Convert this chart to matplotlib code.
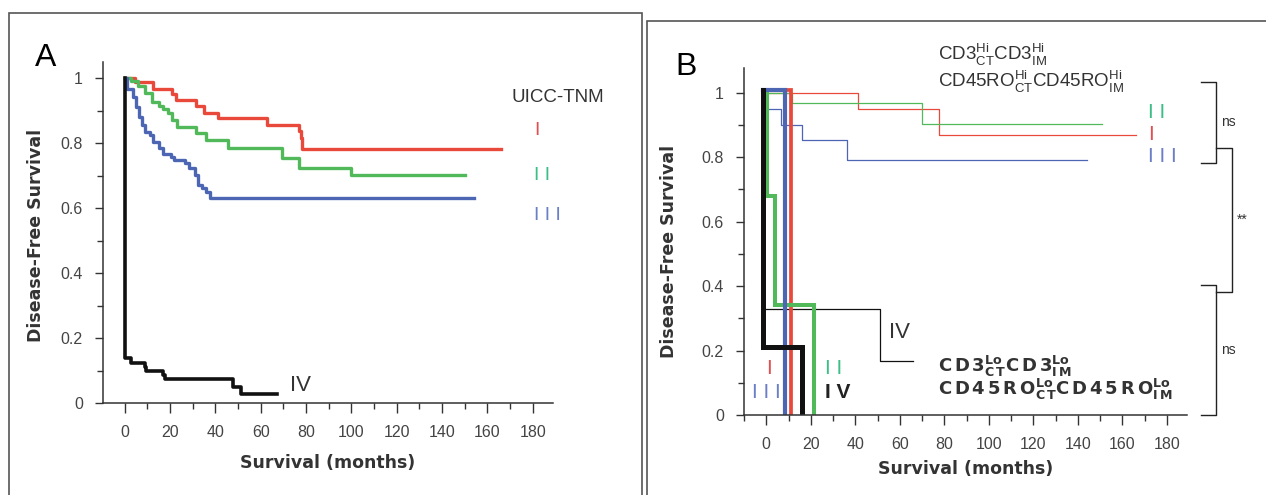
import matplotlib
matplotlib.use("Agg")
import matplotlib.pyplot as plt
from matplotlib.patches import Rectangle
from matplotlib.ticker import MultipleLocator

plt.rcParams["font.family"] = ["Liberation Sans", "DejaVu Sans"]
plt.rcParams["mathtext.fontset"] = "custom"
plt.rcParams["mathtext.rm"] = "Liberation Sans"
plt.rcParams["mathtext.bf"] = "Liberation Sans:bold"
plt.rcParams["mathtext.sf"] = "DejaVu Sans:bold"

RED = "#e8493b"
GREEN = "#52b95a"
BLUE = "#4c66b3"
BLACK = "#111111"
LBL_RED = "#e05050"
LBL_GREEN = "#3cbf86"
LBL_BLUE = "#6a7fc6"

# ---- panel A : UICC-TNM stages (months, survival fraction)
a_stage1_t = [0, 4.5, 12.5, 21, 22.5, 31.5, 35, 41, 63, 77, 77.6, 78.4, 166]
a_stage1_s = [1.0, 0.987, 0.966, 0.951, 0.933, 0.915, 0.894, 0.876, 0.855, 0.837, 0.817, 0.783, 0.783]

a_stage2_t = [0, 3, 6, 9, 12, 15, 17, 19, 21, 23, 31.5, 36, 45.5, 69.5, 77, 100, 150]
a_stage2_s = [1.0, 0.99, 0.975, 0.953, 0.927, 0.915, 0.905, 0.893, 0.871, 0.85, 0.832, 0.809, 0.784, 0.753, 0.725, 0.702, 0.702]

a_stage3_t = [0, 1, 3.5, 5, 6.5, 7.5, 9, 11, 12.5, 15, 17, 20.5, 22, 26.5, 28.5, 31, 32.3, 34, 36, 37.5, 154]
a_stage3_s = [1.0, 0.968, 0.943, 0.912, 0.881, 0.855, 0.835, 0.825, 0.804, 0.784, 0.768, 0.758, 0.748, 0.738, 0.722, 0.702, 0.671, 0.661, 0.650, 0.630, 0.630]

a_stage4_t = [0, 0, 3, 9, 9.6, 17, 17.7, 47.7, 51.3, 67]
a_stage4_s = [1.0, 0.138, 0.122, 0.112, 0.097, 0.086, 0.073, 0.050, 0.027, 0.027]

# ---- panel B : Hi (thin) and Lo (thick) immune groups per stage
b_hi1_t = [0, 41.4, 77.8, 166]
b_hi1_s = [1.0, 0.949, 0.870, 0.870]
b_hi2_t = [0, 11.5, 70, 151]
b_hi2_s = [1.0, 0.968, 0.904, 0.904]
b_hi3_t = [-1.4, -1.4, 6.7, 16, 36.2, 144]
b_hi3_s = [1.0, 0.950, 0.900, 0.854, 0.790, 0.790]
b_hi4_t = [-1.4, -1.4, 51.2, 66]
b_hi4_s = [1.0, 0.329, 0.169, 0.169]

b_lo1_t = [-1.4, 11.3]
b_lo1_s = [1.01, 0.0]
b_lo2_t = [0.5, 0.5, 4, 21.5]
b_lo2_s = [1.0, 0.68, 0.342, 0.0]
b_lo3_t = [-1.4, 8.5]
b_lo3_s = [1.01, 0.0]
b_lo4_t = [-1.4, -1.4, 16.2]
b_lo4_s = [1.01, 0.21, 0.0]

x_ticks = [0, 20, 40, 60, 80, 100, 120, 140, 160, 180]
y_ticks = [0, 0.2, 0.4, 0.6, 0.8, 1]
y_tick_labels = ["0", "0.2", "0.4", "0.6", "0.8", "1"]

# significance brackets in panel B: (x_open, x_spine, y_top, y_bottom, label)
brackets = [
    (195.2, 202.2, 1.034, 0.783, "ns"),
    (202.2, 209.0, 0.829, 0.383, "**"),
    (195.2, 202.2, 0.404, 0.0, "ns"),
]

fig = plt.figure(figsize=(12.66, 4.95), dpi=100)

# panel frames
fig.add_artist(Rectangle((0.0071, -0.3), 0.5002, 1.2747, transform=fig.transFigure,
                         fill=False, edgecolor="#555555", lw=1.2))
fig.add_artist(Rectangle((0.5110, -0.3), 0.52, 1.2576, transform=fig.transFigure,
                         fill=False, edgecolor="#555555", lw=1.2))


def style_axes(ax, ymax):
    ax.set_xlim(-9.5, 189)
    ax.set_ylim(0, ymax)
    for side in ["top", "right"]:
        ax.spines[side].set_visible(False)
    for side in ["left", "bottom"]:
        ax.spines[side].set_color("#333333")
        ax.spines[side].set_linewidth(1.1)
    ax.set_xticks(x_ticks)
    ax.set_yticks(y_ticks)
    ax.set_yticklabels(y_tick_labels)
    ax.xaxis.set_minor_locator(MultipleLocator(10))
    ax.yaxis.set_minor_locator(MultipleLocator(0.1))
    ax.tick_params(which="major", length=6, width=1, color="#333333",
                   labelsize=11.5, labelcolor="#444444", pad=8.5)
    ax.tick_params(axis="x", which="major", length=7, pad=9)
    ax.tick_params(which="minor", length=4, width=1, color="#333333")
    ax.set_xlabel("Survival (months)", family="DejaVu Sans", fontweight="bold",
                  fontsize=12.5, color="#333333", labelpad=10)
    ax.set_ylabel("Disease-Free Survival", family="DejaVu Sans", fontweight="bold",
                  fontsize=12.5, color="#333333")


# ---------------- panel A
ax_a = fig.add_axes([0.0814, 0.1859, 0.3555, 0.6889])
style_axes(ax_a, 1.05)
ax_a.yaxis.set_label_coords(-0.128, 0.49)
ax_a.step(a_stage1_t, a_stage1_s, where="post", color=RED, lw=2.4)
ax_a.step(a_stage2_t, a_stage2_s, where="post", color=GREEN, lw=2.4)
ax_a.step(a_stage3_t, a_stage3_s, where="post", color=BLUE, lw=2.4)
ax_a.step(a_stage4_t, a_stage4_s, where="post", color=BLACK, lw=2.6)

ax_a.text(170.5, 0.94, "UICC-TNM", fontsize=13.5, color="#333333", ha="left", va="center",
          clip_on=False)
bar_a = dict(fontsize=14, ha="left", va="center", clip_on=False)
ax_a.text(180.5, 0.84, "I", color=LBL_RED, **bar_a)
ax_a.text(180.5, 0.70, "I I", color=LBL_GREEN, **bar_a)
ax_a.text(180.5, 0.577, "I I I", color=LBL_BLUE, **bar_a)
ax_a.text(77.5, 0.055, "IV", fontsize=16, color="#333333", ha="center", va="center")

fig.text(0.036, 0.883, "A", fontsize=23, color="black", ha="center", va="center")

# ---------------- panel B
ax_b = fig.add_axes([0.5877, 0.1616, 0.3499, 0.7010])
style_axes(ax_b, 1.077)
ax_b.set_xlim(-10, 189)
ax_b.xaxis.labelpad = 5.5
ax_b.yaxis.set_label_coords(-0.149, 0.47)

ax_b.step(b_hi1_t, b_hi1_s, where="post", color=RED, lw=0.9)
ax_b.step(b_hi2_t, b_hi2_s, where="post", color=GREEN, lw=0.9)
ax_b.step(b_hi3_t, b_hi3_s, where="post", color=BLUE, lw=0.9)
ax_b.step(b_hi4_t, b_hi4_s, where="post", color=BLACK, lw=0.9)

ax_b.step(b_lo1_t, b_lo1_s, where="post", color=RED, lw=2.7, solid_joinstyle="miter")
ax_b.step(b_lo2_t, b_lo2_s, where="post", color=GREEN, lw=2.9, solid_joinstyle="miter")
ax_b.step(b_lo3_t, b_lo3_s, where="post", color=BLUE, lw=3.0, solid_joinstyle="miter")
ax_b.step(b_lo4_t, b_lo4_s, where="post", color=BLACK, lw=3.6, solid_joinstyle="miter")

hi_kw = dict(fontsize=13.5, color="#333333", ha="left", va="baseline", clip_on=False)
ax_b.text(77, 1.101, r"CD3$_{\mathrm{CT}}^{\mathrm{Hi}}$CD3$_{\mathrm{IM}}^{\mathrm{Hi}}$", **hi_kw)
ax_b.text(77, 1.016, r"CD45RO$_{\mathrm{CT}}^{\mathrm{Hi}}$CD45RO$_{\mathrm{IM}}^{\mathrm{Hi}}$", **hi_kw)

lo_kw = dict(fontsize=13, color="#333333", ha="left", va="baseline")
ax_b.text(77, 0.134,
          r"$\mathsf{C\,D\,3}_{\mathsf{C\,T}}^{\mathsf{Lo}}\mathsf{C\,D\,3}_{\mathsf{I\,M}}^{\mathsf{Lo}}$",
          **lo_kw)
ax_b.text(77, 0.062,
          r"$\mathsf{C\,D\,4\,5\,R\,O}_{\mathsf{C\,T}}^{\mathsf{Lo}}"
          r"\mathsf{C\,D\,4\,5\,R\,O}_{\mathsf{I\,M}}^{\mathsf{Lo}}$",
          **lo_kw)

bar_b = dict(fontsize=15, ha="left", va="center", clip_on=False)
ax_b.text(171.5, 0.940, "I I", color=LBL_GREEN, **bar_b)
ax_b.text(171.5, 0.872, "I", color=LBL_RED, **bar_b)
ax_b.text(171.5, 0.803, "I I I", color=LBL_BLUE, **bar_b)

ax_b.text(-0.2, 0.145, "I", color=LBL_RED, **bar_b)
ax_b.text(26.5, 0.145, "I I", color=LBL_GREEN, **bar_b)
ax_b.text(-6.5, 0.07, "I I I", color=LBL_BLUE, **bar_b)
ax_b.text(26.5, 0.07, "I V", fontsize=15, color="#222222", ha="left", va="center",
          fontweight="bold")
ax_b.text(60, 0.255, "IV", fontsize=16, color="#333333", ha="center", va="center")

for x_open, x_spine, y_top, y_bot, label in brackets:
    ax_b.plot([x_open, x_spine, x_spine, x_open], [y_top, y_top, y_bot, y_bot],
              color="#222222", lw=1.0, clip_on=False)
    ax_b.text(x_spine + 2.2, (y_top + y_bot) / 2, label, fontsize=10,
              color="#333333", ha="left", va="center", clip_on=False)

fig.text(0.542, 0.864, "B", fontsize=23, color="black", ha="center", va="center")

fig.savefig("out.png", dpi=100)
